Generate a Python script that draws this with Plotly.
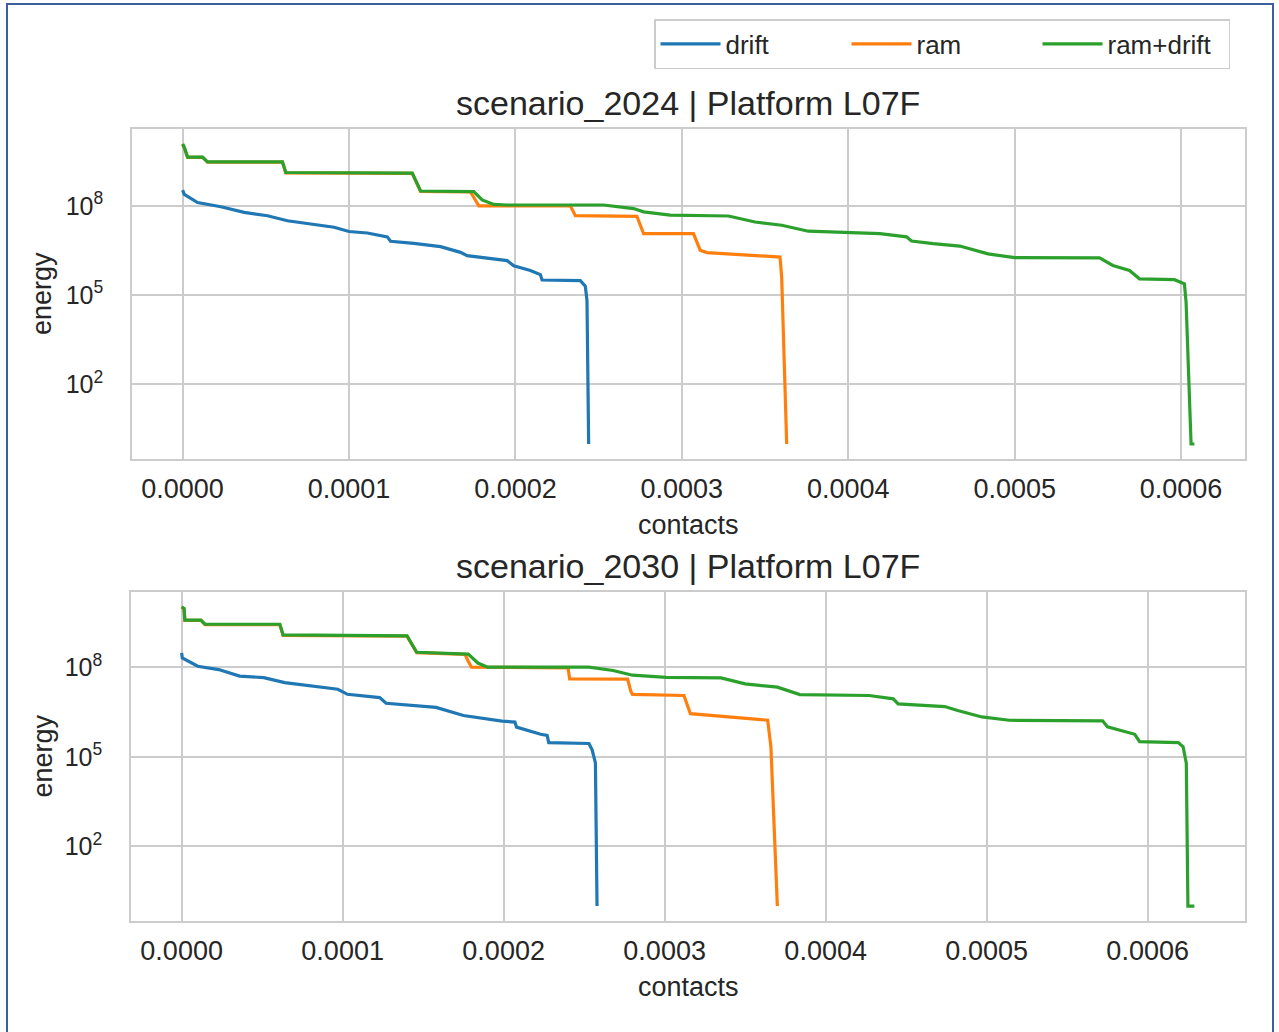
import plotly.graph_objects as go
import math

# ---------------- data ----------------
series_names = ["drift", "ram", "ram+drift"]
series_colors = ["#1f77b4", "#ff7f0e", "#2ca02c"]
panel_titles = ["scenario_2024 | Platform L07F", "scenario_2030 | Platform L07F"]

# scenario_2024
drift_2024_x = [0.0, 0.01e-4, 0.09e-4, 0.23e-4, 0.37e-4, 0.51e-4, 0.63e-4, 0.79e-4, 0.91e-4, 1.00e-4,
                1.11e-4, 1.23e-4, 1.25e-4, 1.39e-4, 1.55e-4, 1.67e-4, 1.71e-4, 1.95e-4, 1.99e-4, 2.09e-4,
                2.15e-4, 2.16e-4, 2.39e-4, 2.42e-4, 2.43e-4, 2.44e-4]
drift_2024_e = [3.39e8, 2.45e8, 1.29e8, 9.33e7, 6.03e7, 4.68e7, 3.16e7, 2.45e7, 1.91e7, 1.38e7,
                1.23e7, 9.12e6, 6.46e6, 5.50e6, 4.27e6, 2.75e6, 2.14e6, 1.45e6, 9.77e5, 6.76e5,
                4.90e5, 3.24e5, 3.09e5, 2.00e5, 6.61e4, 1.0]

ram_2024_x = [0.0, 0.01e-4, 0.03e-4, 0.12e-4, 0.15e-4, 0.60e-4, 0.62e-4, 1.38e-4, 1.43e-4, 1.73e-4,
              1.75e-4, 1.78e-4, 2.33e-4, 2.36e-4, 2.73e-4, 2.76e-4, 2.77e-4, 3.07e-4, 3.11e-4, 3.15e-4,
              3.59e-4, 3.60e-4, 3.63e-4]
ram_2024_e = [1.17e10, 9.12e9, 4.27e9, 4.27e9, 2.95e9, 2.95e9, 1.29e9, 1.23e9, 3.09e8, 2.95e8,
              1.91e8, 1.00e8, 1.00e8, 4.68e7, 4.47e7, 1.51e7, 1.17e7, 1.17e7, 3.24e6, 2.69e6,
              1.91e6, 4.07e5, 1.0]

ramdrift_2024_x = [0.0, 0.01e-4, 0.03e-4, 0.12e-4, 0.15e-4, 0.60e-4, 0.62e-4, 1.38e-4, 1.43e-4, 1.75e-4,
                   1.80e-4, 1.87e-4, 1.95e-4, 2.53e-4, 2.71e-4, 2.77e-4, 2.93e-4, 3.28e-4, 3.44e-4, 3.60e-4,
                   3.76e-4, 4.19e-4, 4.35e-4, 4.38e-4, 4.51e-4, 4.67e-4, 4.84e-4, 5.00e-4, 5.51e-4, 5.59e-4,
                   5.69e-4, 5.75e-4, 5.96e-4, 6.02e-4, 6.03e-4, 6.06e-4, 6.08e-4]
ramdrift_2024_e = [1.20e10, 9.33e9, 4.37e9, 4.37e9, 3.02e9, 3.02e9, 1.32e9, 1.26e9, 3.16e8, 3.02e8,
                   1.58e8, 1.12e8, 1.07e8, 1.07e8, 8.13e7, 6.31e7, 4.90e7, 4.57e7, 2.88e7, 2.24e7,
                   1.41e7, 1.17e7, 9.12e6, 6.61e6, 5.37e6, 4.47e6, 2.45e6, 1.82e6, 1.78e6, 1.00e6,
                   6.76e5, 3.55e5, 3.31e5, 2.40e5, 5.75e4, 1.0, 1.0]

# scenario_2030
drift_2030_x = [0.0, 0.004e-4, 0.10e-4, 0.23e-4, 0.36e-4, 0.51e-4, 0.64e-4, 0.80e-4, 0.97e-4, 1.03e-4,
                1.23e-4, 1.27e-4, 1.58e-4, 1.75e-4, 1.99e-4, 2.07e-4, 2.08e-4, 2.23e-4, 2.27e-4, 2.28e-4,
                2.53e-4, 2.55e-4, 2.57e-4, 2.58e-4]
drift_2030_e = [3.09e8, 2.09e8, 1.10e8, 8.51e7, 5.13e7, 4.57e7, 3.09e7, 2.40e7, 1.86e7, 1.26e7,
                9.77e6, 6.31e6, 4.57e6, 2.45e6, 1.58e6, 1.48e6, 1.00e6, 5.75e5, 5.25e5, 3.02e5,
                2.82e5, 1.70e5, 6.31e4, 1.0]

ram_2030_x = [0.0, 0.015e-4, 0.02e-4, 0.12e-4, 0.145e-4, 0.61e-4, 0.63e-4, 1.40e-4, 1.46e-4, 1.76e-4,
              1.78e-4, 1.80e-4, 2.40e-4, 2.41e-4, 2.77e-4, 2.79e-4, 2.80e-4, 3.12e-4, 3.16e-4, 3.64e-4,
              3.66e-4, 3.70e-4]
ram_2030_e = [1.05e10, 9.33e9, 3.80e9, 3.80e9, 2.75e9, 2.75e9, 1.20e9, 1.12e9, 3.16e8, 2.75e8,
              1.62e8, 1.02e8, 9.77e7, 4.17e7, 4.07e7, 1.58e7, 1.26e7, 1.15e7, 2.82e6, 1.70e6,
              2.19e5, 1.0]

ramdrift_2030_x = [0.0, 0.015e-4, 0.02e-4, 0.12e-4, 0.145e-4, 0.61e-4, 0.63e-4, 1.40e-4, 1.46e-4, 1.78e-4,
                   1.84e-4, 1.90e-4, 2.53e-4, 2.68e-4, 2.80e-4, 3.01e-4, 3.35e-4, 3.50e-4, 3.70e-4, 3.84e-4,
                   4.27e-4, 4.42e-4, 4.45e-4, 4.74e-4, 4.82e-4, 4.97e-4, 5.14e-4, 5.72e-4, 5.75e-4, 5.92e-4,
                   5.95e-4, 6.19e-4, 6.22e-4, 6.24e-4, 6.25e-4, 6.29e-4]
ramdrift_2030_e = [1.07e10, 9.55e9, 3.89e9, 3.89e9, 2.82e9, 2.82e9, 1.23e9, 1.15e9, 3.24e8, 2.82e8,
                   1.41e8, 1.02e8, 1.02e8, 7.94e7, 5.50e7, 4.68e7, 4.47e7, 2.82e7, 2.19e7, 1.23e7,
                   1.15e7, 8.91e6, 6.03e6, 4.90e6, 3.63e6, 2.19e6, 1.70e6, 1.62e6, 1.02e6, 5.75e5,
                   3.24e5, 3.02e5, 2.19e5, 6.17e4, 1.0, 1.0]

x_tick_vals = [0.0, 0.0001, 0.0002, 0.0003, 0.0004, 0.0005, 0.0006]
x_tick_text = ["0.0000", "0.0001", "0.0002", "0.0003", "0.0004", "0.0005", "0.0006"]
y_tick_vals = [1e2, 1e5, 1e8]
y_tick_text = ["10<sup>2</sup>", "10<sup>5</sup>", "10<sup>8</sup>"]

panels = [
    [(drift_2024_x, drift_2024_e), (ram_2024_x, ram_2024_e), (ramdrift_2024_x, ramdrift_2024_e)],
    [(drift_2030_x, drift_2030_e), (ram_2030_x, ram_2030_e), (ramdrift_2030_x, ramdrift_2030_e)],
]

# ---------------- layout geometry (pixels) ----------------
W, H = 1279, 1032
def fx(p):
    return p / W
def fy(p):
    return 1 - p / H

plot_boxes = [(132, 1245, 129, 459), (131, 1245, 592, 921)]  # left, right, top, bottom
FONT = "Liberation Sans, Arial, sans-serif"
TXT = "#262626"
GRID = "#cccccc"

fig = go.Figure()
for pi, panel in enumerate(panels):
    for si, (xs, es) in enumerate(panel):
        fig.add_trace(go.Scatter(
            x=xs, y=es, mode="lines", name=series_names[si],
            line=dict(color=series_colors[si], width=3.2),
            xaxis="x" if pi == 0 else "x2", yaxis="y" if pi == 0 else "y2",
            showlegend=(pi == 0),
        ))

layout = dict(
    width=W, height=H, margin=dict(l=0, r=0, t=0, b=0),
    paper_bgcolor="white", plot_bgcolor="white",
    font=dict(family=FONT, color=TXT),
)

annotations = []
for pi, panel in enumerate(panels):
    l, r, t, b = plot_boxes[pi]
    xmax = max(max(xs) for xs, _ in panel)
    xmin = min(min(xs) for xs, _ in panel)
    lmin = min(math.log10(min(es)) for _, es in panel)
    lmax = max(math.log10(max(es)) for _, es in panel)
    xr = [xmin - 0.05 * (xmax - xmin), xmax + 0.05 * (xmax - xmin)]
    yr = [lmin - 0.05 * (lmax - lmin), lmax + 0.05 * (lmax - lmin)]
    sx = "" if pi == 0 else "2"
    layout["xaxis" + sx] = dict(
        domain=[fx(l), fx(r)], anchor="y" + sx, range=xr,
        tickvals=x_tick_vals, ticktext=x_tick_text,
        tickfont=dict(size=27, color=TXT, family=FONT),
        showgrid=True, gridcolor=GRID, gridwidth=1.5,
        showline=True, linecolor=GRID, linewidth=1.5, mirror=True,
        zeroline=False, ticks="outside", ticklen=5, tickcolor="rgba(0,0,0,0)",
        automargin=False,
    )
    layout["yaxis" + sx] = dict(
        domain=[fy(b), fy(t)], anchor="x" + sx, type="log", range=yr,
        tickvals=y_tick_vals, ticktext=y_tick_text,
        tickfont=dict(size=25, color=TXT, family=FONT),
        showgrid=True, gridcolor=GRID, gridwidth=1.5,
        showline=True, linecolor=GRID, linewidth=1.5, mirror=True,
        zeroline=False, ticks="outside", ticklen=22, tickcolor="rgba(0,0,0,0)",
        automargin=False,
    )
    cx = (l + r) / 2
    annotations.append(dict(text=panel_titles[pi], x=fx(cx), y=fy(t - 26), xref="paper", yref="paper",
                            xanchor="center", yanchor="middle", showarrow=False,
                            font=dict(size=34, color=TXT, family=FONT)))
    annotations.append(dict(text="contacts", x=fx(cx), y=fy(b + 66), xref="paper", yref="paper",
                            xanchor="center", yanchor="middle", showarrow=False,
                            font=dict(size=27, color=TXT, family=FONT)))
    annotations.append(dict(text="energy", x=fx(42), y=fy((t + b) / 2), xref="paper", yref="paper",
                            xanchor="center", yanchor="middle", showarrow=False, textangle=-90,
                            font=dict(size=27, color=TXT, family=FONT)))

layout["annotations"] = annotations
layout["legend"] = dict(
    orientation="h", x=fx(654), xanchor="left", y=fy(19), yanchor="top",
    bgcolor="white", bordercolor=GRID, borderwidth=1.5,
    font=dict(size=26, color=TXT, family=FONT), itemwidth=60,
    entrywidth=116, entrywidthmode="pixels",
)
layout["shapes"] = [dict(type="rect", xref="paper", yref="paper",
                         x0=fx(7), x1=fx(1273), y0=fy(1045), y1=fy(4),
                         line=dict(color="#3A5F9B", width=2), fillcolor="rgba(0,0,0,0)", layer="above")]

fig.update_layout(**layout)
fig.write_html("out.html")
